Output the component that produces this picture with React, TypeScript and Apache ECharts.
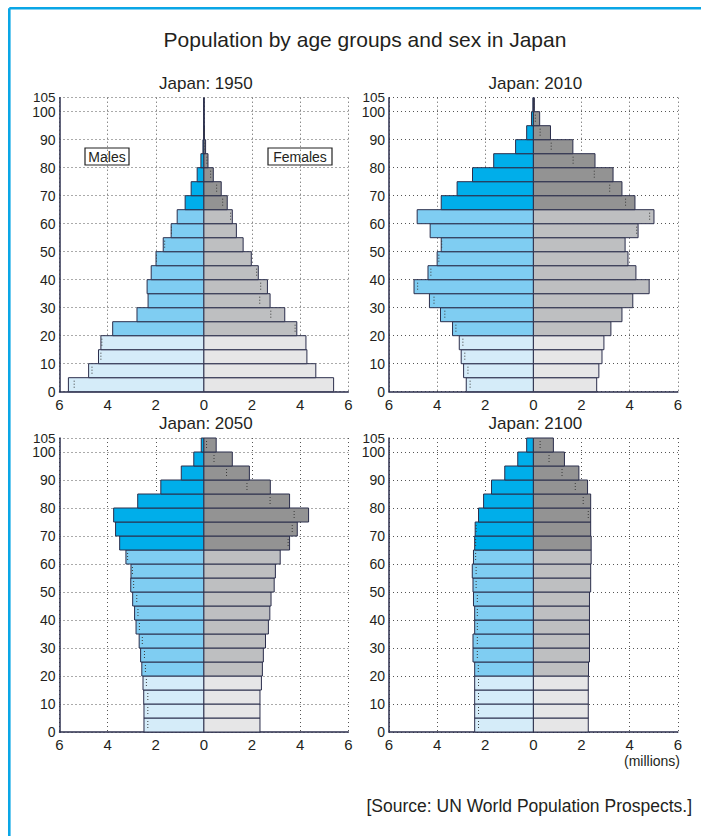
import React, { useEffect, useRef } from "react";
import * as echarts from "echarts";

// ---------- data ----------
const ageGroups = [0, 5, 10, 15, 20, 25, 30, 35, 40, 45, 50, 55, 60, 65, 70, 75, 80, 85, 90, 95, 100];

const males1950 = [5.63, 4.79, 4.38, 4.28, 3.79, 2.78, 2.32, 2.36, 2.19, 1.99, 1.69, 1.36, 1.11, 0.78, 0.53, 0.28, 0.125, 0.04, 0.01, 0.002, 0.0];
const females1950 = [5.39, 4.65, 4.28, 4.24, 3.86, 3.36, 2.75, 2.64, 2.26, 1.97, 1.63, 1.35, 1.18, 0.97, 0.72, 0.39, 0.17, 0.07, 0.02, 0.005, 0.001];

const males2010 = [2.79, 2.9, 3.0, 3.08, 3.36, 3.86, 4.32, 4.96, 4.38, 4.0, 3.83, 4.29, 4.83, 3.83, 3.17, 2.53, 1.65, 0.74, 0.28, 0.08, 0.02];
const females2010 = [2.63, 2.72, 2.85, 2.93, 3.22, 3.68, 4.13, 4.81, 4.26, 3.93, 3.81, 4.35, 5.01, 4.22, 3.68, 3.31, 2.56, 1.64, 0.71, 0.26, 0.04];

const males2050 = [2.49, 2.49, 2.5, 2.53, 2.58, 2.63, 2.69, 2.82, 2.88, 2.96, 3.04, 3.03, 3.24, 3.5, 3.67, 3.75, 2.75, 1.79, 0.94, 0.42, 0.11];
const females2050 = [2.33, 2.33, 2.33, 2.39, 2.43, 2.47, 2.56, 2.68, 2.74, 2.79, 2.92, 2.97, 3.17, 3.56, 3.88, 4.35, 3.56, 2.76, 1.89, 1.18, 0.51];

const males2100 = [2.44, 2.44, 2.44, 2.44, 2.44, 2.51, 2.51, 2.44, 2.44, 2.49, 2.51, 2.54, 2.49, 2.44, 2.42, 2.28, 2.07, 1.74, 1.19, 0.65, 0.28];
const females2100 = [2.28, 2.28, 2.28, 2.28, 2.29, 2.33, 2.33, 2.33, 2.33, 2.33, 2.38, 2.38, 2.4, 2.4, 2.38, 2.38, 2.38, 2.25, 1.89, 1.29, 0.83];

const panelTitles = ["Japan: 1950", "Japan: 2010", "Japan: 2050", "Japan: 2100"];
const panelMales = [males1950, males2010, males2050, males2100];
const panelFemales = [females1950, females2010, females2050, females2100];

const xTickValues = [-6, -4, -2, 0, 2, 4, 6];
const yTickValues = [0, 10, 20, 30, 40, 50, 60, 70, 80, 90, 100];
const yTopTickValues = [105];

const mainTitle = "Population by age groups and sex in Japan";
const maleLabel = "Males";
const femaleLabel = "Females";
const unitLabel = "(millions)";
const sourceLabel = "[Source: UN World Population Prospects.]";

// ---------- styles / layout ----------
const FONT = "'Liberation Sans', Arial, Helvetica, sans-serif";
const TEXT = "#231f20";
const NAVY = "#2b2e4c";
const FRAME = "#0aa6e6";
const maleColors = ["#d5ecf9", "#7fcdf2", "#00aeea"];
const femaleColors = ["#e6e6e7", "#bebfc1", "#939393"];

const gridBoxes = [
  { left: 59.5, top: 97.7, width: 288.8, height: 294 },
  { left: 389, top: 97.7, width: 288.8, height: 294 },
  { left: 59.5, top: 438, width: 288.8, height: 294 },
  { left: 389, top: 438, width: 288.8, height: 294 },
];

function ageColorIndex(age: number) {
  if (age < 20) return 0;
  if (age < 65) return 1;
  return 2;
}

function renderBar(params: any, api: any) {
  const side = api.value(0);
  const age = api.value(1);
  const v = api.value(2);
  const opp = api.value(3);
  const base = api.coord([0, age]);
  const end = api.coord([side * v, age + 5]);
  const x = Math.min(base[0], end[0]);
  const w = Math.abs(end[0] - base[0]);
  const y = end[1];
  const h = base[1] - end[1];
  const ci = ageColorIndex(age);
  const fill = side < 0 ? maleColors[ci] : femaleColors[ci];
  const children: any[] = [
    {
      type: "rect",
      shape: { x, y, width: w, height: h },
      style: { fill, stroke: NAVY, lineWidth: 1 },
    },
  ];
  if (opp < v - 0.005 && opp > 0.005) {
    const m = api.coord([side * opp, age]);
    children.push({
      type: "line",
      shape: { x1: m[0], y1: y + 3, x2: m[0], y2: y + h - 3 },
      style: { stroke: "#3a3a3a", lineWidth: 1, lineDash: [1, 2] },
    });
  }
  return { type: "group", children };
}

export default function App() {
  const ref = useRef<HTMLDivElement>(null);

  useEffect(() => {
    if (!ref.current) return;
    const chart = echarts.init(ref.current, null, { renderer: "svg" });

    const grids = gridBoxes.map((g) => ({ ...g, containLabel: false }));
    const splitStyle = { color: "#555", type: [1, 3], width: 1 };
    const yMin = 0;
    const yMax = 105;

    const xAxes = gridBoxes.map((_, i) => ({
      type: "value",
      gridIndex: i,
      min: xTickValues[0],
      max: xTickValues[xTickValues.length - 1],
      interval: xTickValues[1] - xTickValues[0],
      axisLine: { show: true, onZero: false, lineStyle: { color: NAVY, width: 1.5 } },
      axisTick: { show: false },
      axisLabel: {
        color: TEXT,
        fontFamily: FONT,
        fontSize: 15,
        margin: 5,
        customValues: xTickValues,
        formatter: (v: number) => String(Math.abs(v)),
      },
      splitLine: { show: true, lineStyle: splitStyle },
    }));

    const yLabelStyle = {
      color: TEXT,
      fontFamily: FONT,
      fontSize: 14,
      margin: 4,
    };

    const yAxes: any[] = [];
    gridBoxes.forEach((_, i) => {
      yAxes.push({
        type: "value",
        gridIndex: i,
        min: yMin,
        max: yMax,
        interval: yTickValues[1] - yTickValues[0],
        axisLine: { show: true, onZero: false, lineStyle: { color: NAVY, width: 1.5 } },
        axisTick: { show: false },
        axisLabel: { ...yLabelStyle, customValues: yTickValues },
        splitLine: { show: true, lineStyle: splitStyle },
      });
    });
    // secondary axes carrying only the top "105" label
    gridBoxes.forEach((_, i) => {
      yAxes.push({
        type: "value",
        gridIndex: i,
        position: "left",
        min: yMin,
        max: yMax,
        interval: 105,
        axisLine: { show: false },
        axisTick: { show: false },
        splitLine: { show: false },
        axisLabel: {
          ...yLabelStyle,
          fontSize: 13.5,
          padding: [0, 0, 5, 0],
          customValues: yTopTickValues,
        },
      });
    });

    const series: any[] = [];
    gridBoxes.forEach((_, i) => {
      const m = panelMales[i];
      const f = panelFemales[i];
      const data: any[] = [];
      ageGroups.forEach((age, k) => {
        data.push([-1, age, m[k], f[k]]);
        data.push([1, age, f[k], m[k]]);
      });
      series.push({
        type: "custom",
        xAxisIndex: i,
        yAxisIndex: i,
        renderItem: renderBar,
        data,
        encode: { x: 2, y: 1 },
        silent: true,
        clip: false,
      });
    });

    const titles: any[] = [
      {
        text: mainTitle,
        left: 360,
        top: 24,
        textAlign: "center",
        textStyle: { fontFamily: FONT, fontSize: 21, fontWeight: "normal", color: TEXT },
      },
    ];
    gridBoxes.forEach((g, i) => {
      titles.push({
        text: panelTitles[i],
        left: g.left + g.width / 2 - 3,
        top: g.top - 28,
        textAlign: "center",
        textStyle: { fontFamily: FONT, fontSize: 17, fontWeight: "normal", color: TEXT },
      });
    });

    const labelBox = (text: string, x: number, y: number, w: number, h: number) => ({
      type: "group",
      z: 100,
      children: [
        {
          type: "rect",
          shape: { x, y, width: w, height: h },
          style: { fill: "#fff", stroke: "#222", lineWidth: 1.2 },
        },
        {
          type: "text",
          x: x + w / 2,
          y: y + h / 2 + 0.5,
          style: {
            text,
            fontFamily: FONT,
            fontSize: 14,
            fill: TEXT,
            textAlign: "center",
            textVerticalAlign: "middle",
          },
        },
      ],
    });

    chart.setOption({
      animation: false,
      backgroundColor: "#ffffff",
      title: titles,
      grid: grids,
      xAxis: xAxes,
      yAxis: yAxes,
      series,
      graphic: [
        {
          type: "line",
          shape: { x1: 9.3, y1: 8.2, x2: 701, y2: 8.2 },
          style: { stroke: FRAME, lineWidth: 2.6 },
        },
        {
          type: "line",
          shape: { x1: 9.3, y1: 8.2, x2: 9.3, y2: 836 },
          style: { stroke: FRAME, lineWidth: 2.6 },
        },
        labelBox(maleLabel, 85, 148, 44, 17),
        labelBox(femaleLabel, 268, 148, 64, 17),
        {
          type: "text",
          x: 680,
          y: 761,
          style: {
            text: unitLabel,
            fontFamily: FONT,
            fontSize: 14,
            fill: TEXT,
            textAlign: "right",
            textVerticalAlign: "middle",
          },
        },
        {
          type: "text",
          x: 692,
          y: 806,
          style: {
            text: sourceLabel,
            fontFamily: FONT,
            fontSize: 17.5,
            fill: TEXT,
            textAlign: "right",
            textVerticalAlign: "middle",
          },
        },
      ],
    });

    return () => chart.dispose();
  }, []);

  return (
    <div
      ref={ref}
      style={{ position: "fixed", left: 0, top: 0, width: 701, height: 836, background: "#fff" }}
    />
  );
}
